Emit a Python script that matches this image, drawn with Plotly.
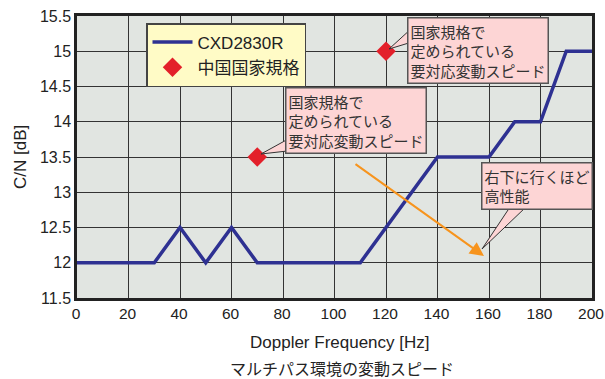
import plotly.graph_objects as go

# data
freq = [0, 30, 40, 50, 60, 70, 110, 140, 160, 170, 180, 190, 200]
cn_cxd = [12, 12, 12.5, 12, 12.5, 12, 12, 13.5, 13.5, 14, 14, 15, 15]
std_freq = [70, 120]
std_cn = [13.5, 15]
y_ticks = [11.5, 12, 12.5, 13, 13.5, 14, 14.5, 15, 15.5]
y_ticklabels = ["11.5", "12", "12.5", "13", "13.5", "14", "14.5", "15", "15.5"]
x_ticks = [0, 20, 40, 60, 80, 100, 120, 140, 160, 180, 200]

# body margin is removed by the post script, so the figure fills the window
OFF = 0
SW, SH = 605, 379                 # screen size
PL, PR, PT, PB = 77, 592, 16, 298  # plot area in screen pixels
W, H = SW - OFF, SH - OFF
L, R, T, B = PL - OFF, SW - PR, PT - OFF, SH - PB

JP = "Noto Sans CJK JP"
LAT = "Liberation Sans, Arial, Noto Sans CJK JP"

def px2x(px):
    return (px - PL) / (PR - PL) * 200

def py2y(py):
    return 15.5 - (py - PT) / (PB - PT) * 4

def pxp(px):
    return (px - PL) / (PR - PL)

def pyp(py):
    return 1 - (py - PT) / (PB - PT)

fig = go.Figure()
fig.add_trace(go.Scatter(x=freq, y=cn_cxd, mode="lines", name="CXD2830R",
                         line=dict(color="#2E3192", width=3.5)))
fig.add_trace(go.Scatter(x=std_freq, y=std_cn, mode="markers", name="中国国家規格",
                         marker=dict(symbol="diamond", size=15, color="#E3202A")))

box_style = dict(bgcolor="#FDD5D5", bordercolor="#555555", borderwidth=1.5, borderpad=2,
                 font=dict(family=JP, size=15, color="#333333"), align="left",
                 showarrow=False, xref="paper", yref="paper", xanchor="left", yanchor="top")

def wedge(tip, b1, b2):
    return dict(type="path", xref="x", yref="y",
                path=f"M {px2x(b1[0])},{py2y(b1[1])} L {px2x(tip[0])},{py2y(tip[1])} L {px2x(b2[0])},{py2y(b2[1])} Z",
                fillcolor="#FDD5D5", line=dict(color="#333333", width=1), layer="above")

shapes = [
    wedge((389, 49), (412, 28), (412, 42)),
    wedge((261, 154), (290, 138), (296, 150)),
    wedge((482, 249), (510, 207), (526, 207)),
]

annotations = [
    dict(text="国家規格で<br>定められている<br>要対応変動スピード", x=pxp(407), y=pyp(17), **box_style),
    dict(text="国家規格で<br>定められている<br>要対応変動スピード", x=pxp(285), y=pyp(87), **box_style),
    dict(text="右下に行くほど<br>高性能", x=pxp(481), y=pyp(162), **box_style),
    dict(x=px2x(484), y=py2y(256), ax=px2x(354), ay=py2y(163), xref="x", yref="y",
         axref="x", ayref="y", showarrow=True, arrowhead=2, arrowsize=1.4, arrowwidth=2,
         arrowcolor="#F7941D", text=""),
    dict(text="Doppler Frequency [Hz]", x=pxp(340), y=pyp(342), xref="paper", yref="paper",
         showarrow=False, yanchor="middle", font=dict(family=LAT, size=17, color="#222")),
    dict(text="マルチパス環境の変動スピード", x=pxp(342), y=pyp(368), xref="paper", yref="paper",
         showarrow=False, yanchor="middle", font=dict(family=JP, size=16, color="#222")),
    dict(text="C/N [dB]", x=pxp(20), y=pyp(157), xref="paper", yref="paper", textangle=-90,
         showarrow=False, xanchor="center", yanchor="middle",
         font=dict(family=LAT, size=17, color="#222")),
]

fig.update_layout(
    width=W, height=H, margin=dict(l=L, r=R, t=T, b=B),
    paper_bgcolor="white", plot_bgcolor="#E1E5E1",
    font=dict(family=LAT, size=16, color="#222"),
    showlegend=True,
    legend=dict(x=pxp(146), y=pyp(23), xanchor="left", yanchor="top",
                bgcolor="#FFFBC6", bordercolor="#444444", borderwidth=1.5,
                font=dict(family=LAT, size=17, color="#222"), itemwidth=40, tracegroupgap=4),
    xaxis=dict(range=[0, 200], tickvals=x_ticks, showgrid=True, gridcolor="#333333", gridwidth=1,
               zeroline=False, showline=True, linecolor="#222222", linewidth=2.5, mirror=True,
               ticks="", tickfont=dict(family=LAT, size=15.5), automargin=False,
               ticklabeloverflow="allow", ticklabelshift=-1),
    yaxis=dict(range=[11.5, 15.5], tickvals=y_ticks, ticktext=y_ticklabels, showgrid=True,
               gridcolor="#333333", gridwidth=1, zeroline=False, showline=True,
               linecolor="#222222", linewidth=2.5, mirror=True, ticks="",
               tickfont=dict(family=LAT, size=16), automargin=False,
               ticklabeloverflow="allow"),
    shapes=shapes, annotations=annotations,
)

fig.write_html("out.html", default_width=f"{W}px", default_height=f"{H}px",
               config={"displayModeBar": False},
               post_script="document.body.style.margin='0';document.body.style.overflow='hidden';")
